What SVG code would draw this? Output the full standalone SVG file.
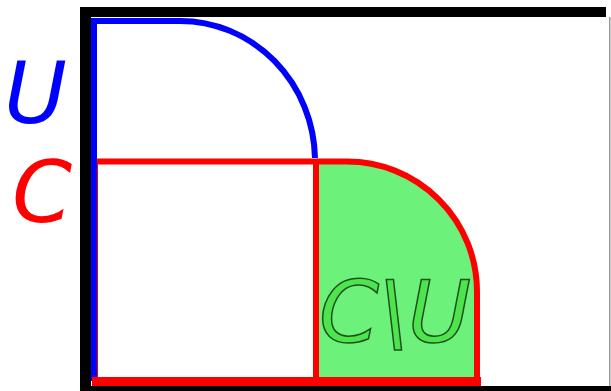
<svg xmlns="http://www.w3.org/2000/svg" width="611" height="391" viewBox="0 0 611 391">
<style>
.lbl{font-family:"DejaVu Sans",sans-serif;font-style:oblique;font-size:86px}
.blue{fill:none;stroke:#0000ff;stroke-width:6}
.red{fill:none;stroke:#ff0000;stroke-width:6}
</style>
<rect width="611" height="391" fill="#ffffff"/>
<g id="frame">
<rect x="80" y="7" width="526" height="10" fill="#000"/>
<rect x="80" y="7" width="11" height="384" fill="#000"/>
<rect x="80" y="386" width="531" height="5" fill="#000"/>
<rect x="609" y="17" width="1.5" height="369" fill="#999"/>
</g>
<g id="diff">
<path d="M316,161.5 H347 A130,130 0 0 1 477,291.5 V381 H316 Z" fill="#6cf27a"/>
</g>
<g id="setC">
<path class="red" d="M95,381 V161.5 H347 A130,130 0 0 1 477,291.5 V381"/>
<line class="red" x1="316" y1="161.5" x2="316" y2="381"/>
</g>
<g id="setU">
<path class="blue" d="M94,381 V21 H180 A135,140 0 0 1 315,158"/>
</g>
<g id="setCbottom">
<rect x="92" y="377" width="389" height="9" fill="#ff0000"/>
</g>
<g id="labels">
<text class="lbl" x="4" y="123" fill="#0000ff">U</text>
<text class="lbl" x="12" y="222" fill="#ff0000">C</text>
<text class="lbl" x="319" y="342" fill="#4de44d" stroke="#1f4f1f" stroke-width="1.5" style="font-size:86px">C\U</text>
</g>
</svg>
